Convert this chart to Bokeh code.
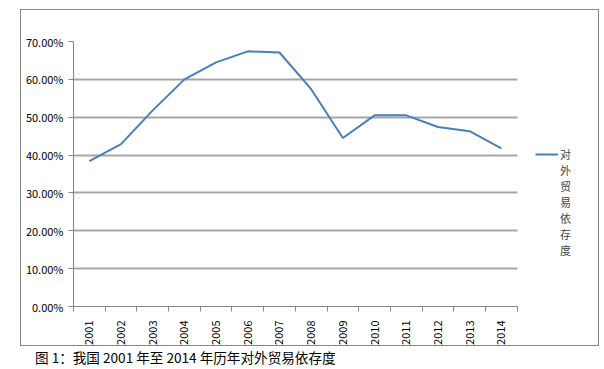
from bokeh.plotting import figure
from bokeh.embed import file_html
from bokeh.resources import INLINE
from bokeh.layouts import column
from bokeh.models import (FixedTicker, NumeralTickFormatter, Legend, LegendItem,
                          Range1d, Div)
import math

years = ["2001", "2002", "2003", "2004", "2005", "2006", "2007",
         "2008", "2009", "2010", "2011", "2012", "2013", "2014"]
dependence = [0.384, 0.429, 0.518, 0.600, 0.645, 0.674, 0.671,
              0.574, 0.445, 0.505, 0.505, 0.474, 0.463, 0.418]
y_ticks = [0.0, 0.1, 0.2, 0.3, 0.4, 0.5, 0.6, 0.7]
series_name = "对外贸易依存度"
caption = "图 1：我国 2001 年至 2014 年历年对外贸易依存度"

n = len(years)
xs = [i + 0.5 for i in range(n)]

FONT = "Noto Sans CJK SC"

W, H = 579, 337
BL, BR, BT, BB = 52, 2, 31, 38
frame_w = (W - 2) - BL - BR
plot_w = 442  # width of the plotting area proper (axis span)
x_end = n * frame_w / plot_w

p = figure(width=W, height=H, output_backend="svg", toolbar_location=None,
           x_range=Range1d(0, x_end), y_range=Range1d(0, 0.7),
           min_border_left=BL, min_border_right=BR, min_border_top=BT, min_border_bottom=BB)
p.outline_line_color = None
p.background_fill_color = "white"
p.margin = (9, 0, 0, 20)
p.styles = {"border": "1px solid #868686", "box-sizing": "border-box"}

# axes
p.xaxis.bounds = (0, n)
p.xaxis.ticker = FixedTicker(ticks=xs, minor_ticks=list(range(n + 1)))
p.xaxis.major_label_overrides = {x: y for x, y in zip(xs, years)}
p.xaxis.major_label_orientation = math.pi / 2
p.xaxis.major_tick_out = 0
p.xaxis.major_tick_in = 0
p.xaxis.minor_tick_out = 5
p.xaxis.minor_tick_in = 0
p.xaxis.major_label_standoff = 9
p.xaxis.major_label_text_font = FONT
p.xaxis.major_label_text_font_size = "11px"
p.xaxis.major_label_text_color = "black"
p.xaxis.axis_line_color = "#868686"
p.xaxis.minor_tick_line_color = "#868686"

p.yaxis.ticker = FixedTicker(ticks=y_ticks, minor_ticks=[])
p.yaxis.formatter = NumeralTickFormatter(format="0.00%")
p.yaxis.major_tick_out = 5
p.yaxis.major_tick_in = 0
p.yaxis.major_label_standoff = 5
p.yaxis.major_label_text_font = FONT
p.yaxis.major_label_text_font_size = "11px"
p.yaxis.major_label_text_color = "black"
p.yaxis.axis_line_color = "#868686"
p.yaxis.major_tick_line_color = "#868686"

p.xgrid.grid_line_color = None
p.ygrid.ticker = FixedTicker(ticks=y_ticks[1:])
p.ygrid.cross_bounds = (0, n)
p.ygrid.grid_line_color = "#a6a6a6"
p.ygrid.grid_line_width = 2

r = p.line(xs, dependence, line_color="#4a7ebb", line_width=2)

# vertical legend text; leading blank lines keep the key line level with the first character
chars = list(series_name)
legend_label = "\n" * (len(chars) - 1) + "\n".join(chars)
legend = Legend(items=[LegendItem(label=legend_label, renderers=[r])],
                location=(plot_w + 20, 48), orientation="vertical",
                border_line_color=None, background_fill_alpha=0,
                padding=0, margin=0, glyph_width=23, glyph_height=14,
                label_standoff=2, label_text_font=FONT, label_text_font_size="11px")
p.add_layout(legend, "center")

cap = Div(text=caption, margin=(2, 0, 0, 35),
          styles={"font-family": FONT, "font-size": "13.6px", "color": "black"})

layout = column(p, cap, spacing=0)
open("out.html", "w").write(file_html(layout, INLINE))
